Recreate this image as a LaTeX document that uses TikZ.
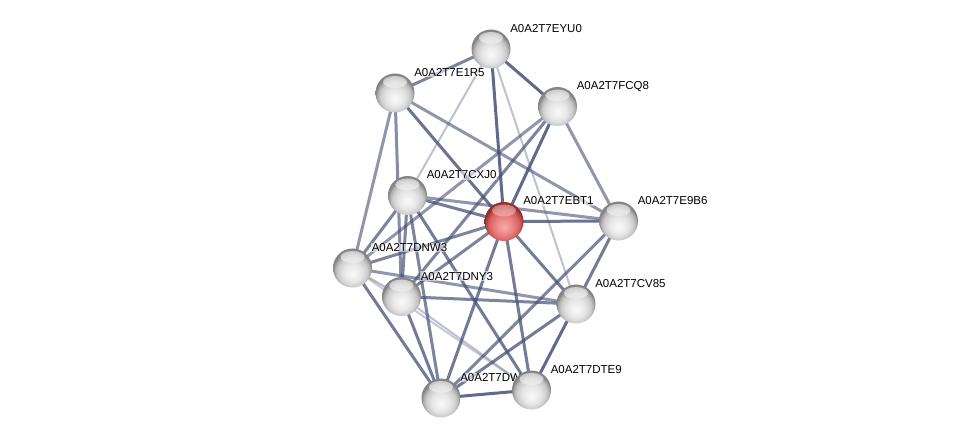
\documentclass[tikz,border=0pt]{standalone}
\usepackage{fontspec}
\setmainfont{Liberation Sans}
\definecolor{edgec}{RGB}{70,80,118}
\pgfdeclareradialshading{sphg}{\pgfpoint{0bp}{-8bp}}{color(0bp)=(white!98!black); color(12bp)=(white!90!black); color(19bp)=(white!80!black); color(23bp)=(white!66!black); color(25bp)=(white!52!black); color(50bp)=(white!52!black)}
\pgfdeclareradialshading{sphr}{\pgfpoint{0bp}{-8bp}}{color(0bp)=(rgb,255:red,246;green,170;blue,170); color(12bp)=(rgb,255:red,236;green,128;blue,128); color(19bp)=(rgb,255:red,215;green,100;blue,100); color(23bp)=(rgb,255:red,180;green,70;blue,70); color(25bp)=(rgb,255:red,150;green,45;blue,45); color(50bp)=(rgb,255:red,150;green,45;blue,45)}
\pgfdeclarelayer{edgelayer}
\pgfdeclarelayer{labellayer}
\pgfsetlayers{edgelayer,labellayer,main}
\tikzset{
  sphere/.style={circle, minimum size=39pt, inner sep=0pt, shade, shading=sphg,
    path picture={\shade[top color=white, bottom color=white!85!black, opacity=0.6]
      ([yshift=11pt]path picture bounding box.center) ellipse [x radius=12pt, y radius=6pt];}},
  redsphere/.style={sphere, shading=sphr,
    path picture={\shade[top color=white!85!red, bottom color=red!40!white, opacity=0.5]
      ([yshift=11pt]path picture bounding box.center) ellipse [x radius=12pt, y radius=6pt];}},
  ed/.style={draw=edgec, line width=3pt, draw opacity=#1},
  ed/.default=0.7,
  lite/.style={draw=edgec, line width=2pt, draw opacity=#1},
  lite/.default=0.35,
  lab/.style={anchor=base west, inner sep=0.6pt, font=\fontsize{11.5}{13}\selectfont,
    fill=white, fill opacity=0.55, text opacity=1}
}
\begin{document}
\begin{tikzpicture}[x=1pt, y=-1pt]
\useasboundingbox (0,0) rectangle (976,443);
% spheres
\node[sphere] (eyu0) at (491,49) {};
\node[sphere] (e1r5) at (395,93) {};
\node[sphere] (fcq8) at (557.5,106.5) {};
\node[sphere] (cxj0) at (407.5,195.5) {};
\node[redsphere] (ebt1) at (504,221.5) {};
\node[sphere] (e9b6) at (618.5,221) {};
\node[sphere] (dnw3) at (352.5,268) {};
\node[sphere] (dny3) at (401.5,296.5) {};
\node[sphere] (cv85) at (576,304) {};
\node[sphere] (dw) at (441,398) {};
\node[sphere] (dte9) at (531.5,390) {};
% labels
\begin{pgfonlayer}{labellayer}
\node[lab] (leyu0) at (509.5,32.5) {A0A2T7EYU0};
\node[lab] (le1r5) at (413.5,76.5) {A0A2T7E1R5};
\node[lab] (lfcq8) at (576,90) {A0A2T7FCQ8};
\node[lab] (lcxj0) at (426,179) {A0A2T7CXJ0};
\node[lab] (lebt1) at (522.5,205) {A0A2T7EBT1};
\node[lab] (le9b6) at (637,204.5) {A0A2T7E9B6};
\node[lab] (ldnw3) at (371,251.5) {A0A2T7DNW3};
\node[lab] (ldny3) at (420,280) {A0A2T7DNY3};
\node[lab] (lcv85) at (594.5,287.5) {A0A2T7CV85};
\node[lab] (ldte9) at (550,373.5) {A0A2T7DTE9};
\node[lab] (ldw) at (459.5,381.5) {A0A2T7DW};
\end{pgfonlayer}
% edges
\begin{pgfonlayer}{edgelayer}
\fill[white] (0,0) rectangle (976,443);
\draw[ed=0.7] (eyu0.center) -- (e1r5.center);
\draw[ed=0.85] (eyu0.center) -- (fcq8.center);
\draw[ed=0.85] (eyu0.center) -- (ebt1.center);
\draw[lite] (eyu0.center) -- (cxj0.center);
\draw[lite] (eyu0.center) -- (cv85.center);
\draw[ed=0.8] (e1r5.center) -- (ebt1.center);
\draw[ed=0.6] (e1r5.center) -- (e9b6.center);
\draw[ed=0.65] (e1r5.center) -- (dny3.center);
\draw[ed=0.6] (e1r5.center) -- (dnw3.center);
\draw[ed=0.85] (fcq8.center) -- (ebt1.center);
\draw[ed=0.6] (fcq8.center) -- (e9b6.center);
\draw[ed=0.6] (fcq8.center) -- (dnw3.center);
\draw[ed=0.7] (fcq8.center) -- (dny3.center);
\draw[ed=0.75] (cxj0.center) -- (ebt1.center);
\draw[ed=0.6] (cxj0.center) -- (e9b6.center);
\draw[ed=0.7] (cxj0.center) -- (dnw3.center);
\draw[ed=0.7] (cxj0.center) -- (dny3.center);
\draw[ed=0.7] (cxj0.center) -- (dw.center);
\draw[ed=0.75] (cxj0.center) -- (dte9.center);
\draw[ed=0.8] (ebt1.center) -- (e9b6.center);
\draw[ed=0.7] (ebt1.center) -- (dnw3.center);
\draw[ed=0.7] (ebt1.center) -- (dny3.center);
\draw[ed=0.75] (ebt1.center) -- (dw.center);
\draw[ed=0.75] (ebt1.center) -- (dte9.center);
\draw[ed=0.75] (ebt1.center) -- (cv85.center);
\draw[ed=0.75] (e9b6.center) -- (cv85.center);
\draw[ed=0.7] (e9b6.center) -- (dw.center);
\draw[ed=0.6] (cv85.center) -- (dnw3.center);
\draw[ed=0.7] (cv85.center) -- (dny3.center);
\draw[ed=0.85] (cv85.center) -- (dte9.center);
\draw[ed=0.75] (cv85.center) -- (dw.center);
\draw[lite=0.4] (dnw3.center) -- (dny3.center);
\draw[ed=0.75] (dnw3.center) -- (dw.center);
\draw[ed=0.75] (dny3.center) -- (dw.center);
\draw[lite=0.3] (dnw3.center) -- (dte9.center);
\draw[lite=0.35] (dny3.center) -- (dte9.center);
\draw[ed=0.85] (dw.center) -- (dte9.center);
\end{pgfonlayer}
\end{tikzpicture}
\end{document}
